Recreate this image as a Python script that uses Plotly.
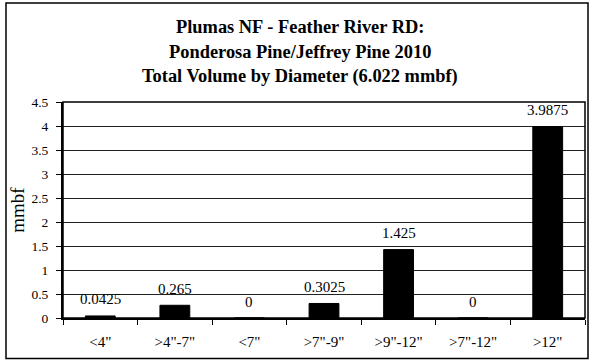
import plotly.graph_objects as go

categories = ['<4"', '>4"-7"', '<7"', '>7"-9"', '>9"-12"', '>7"-12"', '>12"']
values = [0.0425, 0.265, 0, 0.3025, 1.425, 0, 3.9875]
labels = ["0.0425", "0.265", "0", "0.3025", "1.425", "0", "3.9875"]
title_lines = ["Plumas NF - Feather River RD:", "Ponderosa Pine/Jeffrey Pine 2010",
               "Total Volume by Diameter (6.022 mmbf)"]
y_ticks = [0, 0.5, 1, 1.5, 2, 2.5, 3, 3.5, 4, 4.5]

FONT = "Liberation Serif, Times New Roman, serif"
L, R, T, B = 63, 7, 102, 42
W, H = 592, 360
pw, ph = W - L - R, H - T - B

fig = go.Figure(go.Bar(
    x=categories, y=values,
    marker=dict(color="black", line=dict(color="black", width=1)),
    width=0.4, hoverinfo="x+y",
))

for c, v, t in zip(categories, values, labels):
    fig.add_annotation(x=c, y=v, text=t, showarrow=False, yanchor="middle",
                       yshift=16.5, font=dict(family=FONT, size=15, color="black"))

fig.update_layout(
    width=W, height=H, margin=dict(l=L, r=R, t=T, b=B),
    paper_bgcolor="white", plot_bgcolor="white", showlegend=False,
    font=dict(family=FONT, size=13, color="black"),
    xaxis=dict(showline=True, linecolor="black", linewidth=2, mirror=False,
               ticks="outside", ticklen=5, tickcolor="black", tickson="boundaries",
               tickfont=dict(family=FONT, size=15), showgrid=False,
               ticklabelstandoff=9),
    yaxis=dict(range=[0, 4.5], tickvals=y_ticks, ticktext=[f"{v:g}" for v in y_ticks],
               showline=True, linecolor="black", linewidth=2,
               ticks="outside", ticklen=5, tickcolor="black",
               showgrid=True, gridcolor="#222", gridwidth=1, zeroline=False,
               ticklabelstandoff=5,
               title=dict(text="mmbf", font=dict(family=FONT, size=19), standoff=2),
               tickfont=dict(family=FONT, size=13.5)),
)

# plot-area right/top border
fig.add_shape(type="rect", xref="paper", yref="paper", x0=0, x1=1, y0=0, y1=1,
              line=dict(color="black", width=1.5))
# outer chart border
fig.add_shape(type="rect", xref="paper", yref="paper",
              x0=(6 - L) / pw, x1=(588 - L) / pw,
              y0=(H - B - 358.5) / ph, y1=(H - B - 3) / ph,
              line=dict(color="black", width=1.5))

for txt, yc in zip(title_lines, [27, 51.5, 76.5]):
    fig.add_annotation(text=f"<b>{txt}</b>", xref="paper", yref="paper",
                       x=(300 - L) / pw, y=(H - B - yc) / ph,
                       xanchor="center", yanchor="middle", showarrow=False,
                       font=dict(family=FONT, size=18.4, color="black"))

fig.write_html("out.html", config={"displayModeBar": False})
with open("out.html", encoding="utf-8") as f:
    html = f.read()
html = html.replace("<body>", '<body style="margin:0;overflow:hidden">', 1)
with open("out.html", "w", encoding="utf-8") as f:
    f.write(html)
